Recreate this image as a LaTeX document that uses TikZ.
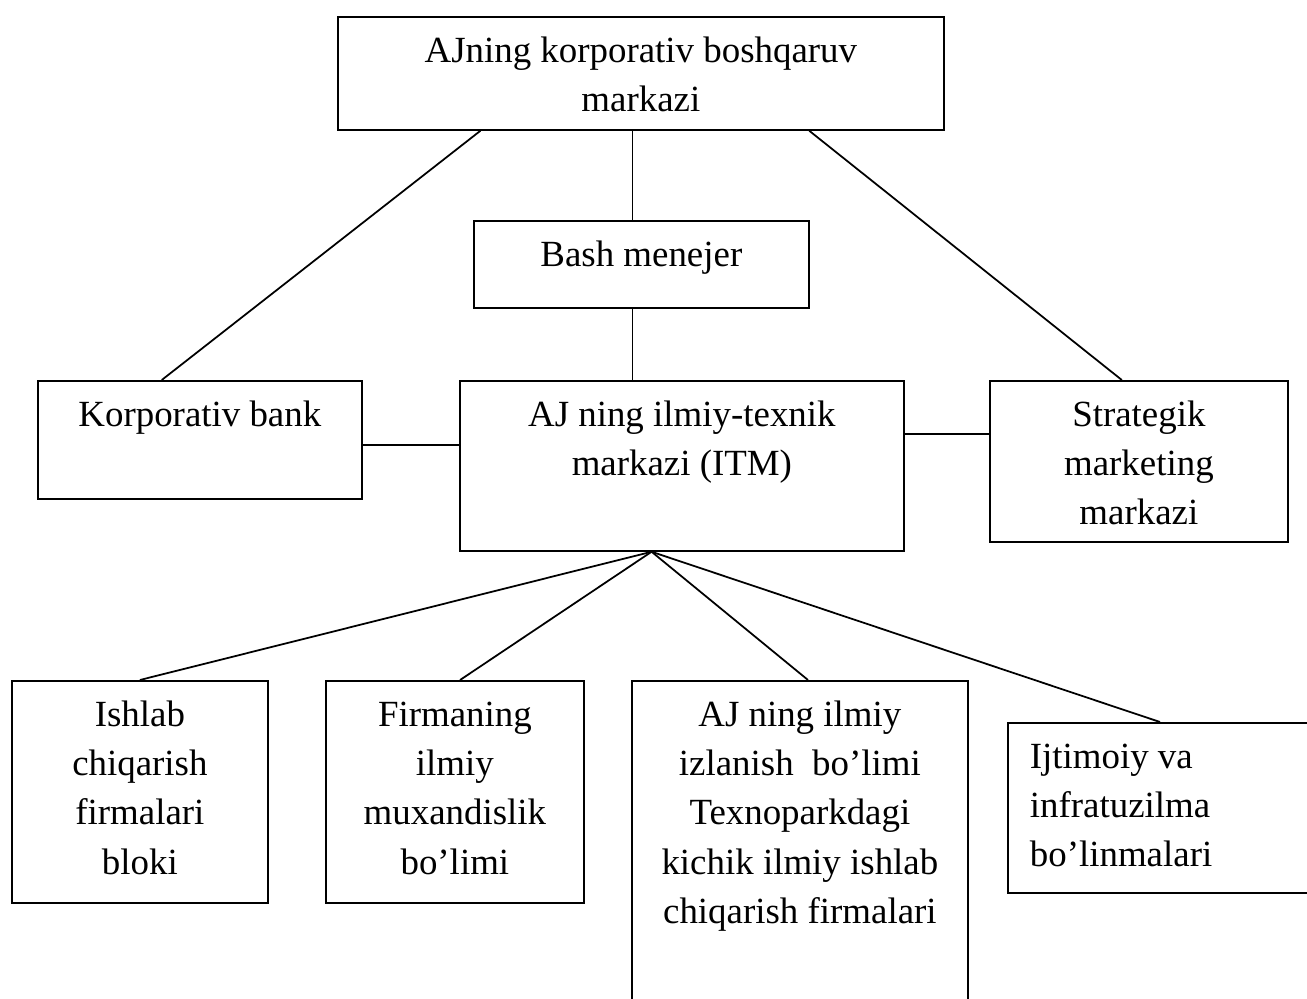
\documentclass[tikz,border=0pt]{standalone}
\usepackage{fontspec}
\setmainfont{Liberation Serif}
\usetikzlibrary{calc}
\newlength{\pxl}
\setlength{\pxl}{0.02cm}
\newcommand{\orgbox}[4][\centering]{\parbox[c][#3\pxl][t]{#2\pxl}{#1\rule{0pt}{26pt}#4}}

\begin{document}
\begin{tikzpicture}[x=0.02cm, y=-0.02cm, line width=1pt,
    unit/.style={draw, inner sep=0pt, anchor=north west, font=\fontsize{21pt}{28pt}\selectfont}]
    \useasboundingbox (0, 0) rectangle (1307, 999);

    % top level
    \node [unit] (top) at (337, 16) {\orgbox{606}{113}{AJning korporativ boshqaruv\\ markazi}};
    \node [unit] (bash) at (473, 220) {\orgbox{335}{87}{Bash menejer}};

    % middle level
    \node [unit] (bank) at (37, 380) {\orgbox{324}{118}{Korporativ bank}};
    \node [unit] (itm) at (459, 380) {\orgbox{444}{170}{AJ ning ilmiy-texnik\\ markazi (ITM)}};
    \node [unit] (strat) at (989, 380) {\orgbox{298}{161}{Strategik\\ marketing\\ markazi}};

    % bottom level
    \node [unit] (ishlab) at (11, 680) {\orgbox{256}{222}{Ishlab\\ chiqarish\\ firmalari\\ bloki}};
    \node [unit] (firm) at (325, 680) {\orgbox{258}{222}{Firmaning\\ ilmiy\\ muxandislik\\ bo’limi}};
    \node [unit] (aj) at (631, 680) {\orgbox{336}{330}{AJ ning ilmiy\\ izlanish\ \ bo’limi\\ Texnoparkdagi\\ kichik ilmiy ishlab\\ chiqarish firmalari}};
    \node [unit] (ijt) at (1007, 722) {\orgbox[\raggedright\leftskip=22\pxl]{313}{170}{Ijtimoiy va\\ infratuzilma\\ bo’linmalari}};

    % connectors
    \coordinate (bn) at ($(bash.north)+(-9, 0)$);
    \coordinate (bs) at ($(bash.south)+(-9, 0)$);
    \coordinate (bk) at ($(bank.east)+(0, 5)$);
    \coordinate (sm) at ($(strat.west)+(0, -27)$);
    \coordinate (apex) at ($(itm.south west)!.432!(itm.south east)$);
    \draw ($(top.south west)!.236!(top.south east)$) -- ($(bank.north west)!.383!(bank.north east)$);
    \draw ($(top.south west)!.777!(top.south east)$) -- ($(strat.north west)!.443!(strat.north east)$);
    \draw (bn) -- (bn |- top.south);
    \draw (bs) -- (bs |- itm.north);
    \draw (bk) -- (bk -| itm.west);
    \draw (sm) -- (sm -| itm.east);
    \foreach \sub/\pos in {ishlab/.5, firm/.52, aj/.524, ijt/.486}
        \draw (apex) -- ($(\sub.north west)!\pos!(\sub.north east)$);
\end{tikzpicture}
\end{document}
